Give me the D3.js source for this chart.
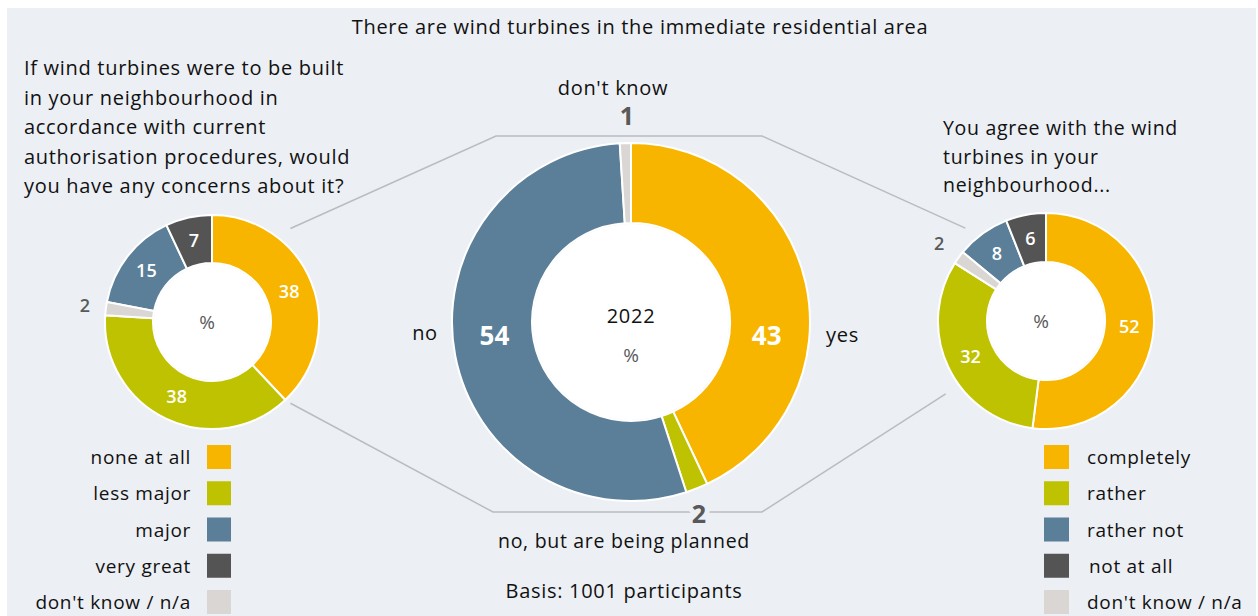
<!DOCTYPE html>
<html>
<head>
<meta charset="utf-8">
<script src="https://cdn.jsdelivr.net/npm/d3@7/dist/d3.min.js"></script>
<style>
  body { margin: 0; background: #fff; }
  svg text { font-family: "Open Sans", sans-serif; }
</style>
</head>
<body>
<div id="chart"></div>
<script>
// data
const mainCats = ["yes", "no, but are being planned", "no", "don't know"];
const mainValues = [43, 2, 54, 1];
const concernCats = ["none at all", "less major", "major", "very great", "don't know / n/a"];
const concernValues = [38, 38, 15, 7, 2];
const agreeCats = ["completely", "rather", "rather not", "not at all", "don't know / n/a"];
const agreeValues = [52, 32, 8, 6, 2];
// clockwise order of slices (index into the category lists)
const sideOrder = [0, 1, 4, 2, 3];
const mainColorIdx = [0, 1, 2, 4];

const palette = ["#F8B500", "#BFC200", "#5B7F99", "#545454", "#DAD6D3"];
const bg = "#ECEFF4";

const width = 1258, height = 616;

const svg = d3.select('#chart')
  .append('svg')
  .attr('width', width)
  .attr('height', height);

svg.append('rect')
  .attr('x', 7).attr('y', 8)
  .attr('width', 1249).attr('height', 608)
  .attr('fill', bg);

const main = { cx: 631, cy: 322, r0: 99, r1: 179 };
const left = { cx: 212, cy: 322, r0: 59, r1: 107 };
const right = { cx: 1046, cy: 321, r0: 59, r1: 108 };

function pt(c, r, deg) {
  const a = deg * Math.PI / 180;
  return [c.cx + r * Math.sin(a), c.cy - r * Math.cos(a)];
}

// connector lines
const lineColor = "#B9BCC0";
const lineGen = d3.line();
const topY = main.cy - 186, botY = main.cy + 190;
const tl = [main.cx - 135, topY], tr = [main.cx + 131, topY];
const bl = [main.cx - 138, botY], br = [main.cx + 131, botY];
[
  [pt(left, 122, 40), tl, tr, pt(right, 123, 319)],
  [pt(left, 113, 136), bl, br, pt(right, 124, 234)]
].forEach(p => {
  svg.append('path')
    .attr('d', lineGen(p))
    .attr('fill', 'none')
    .attr('stroke', lineColor)
    .attr('stroke-width', 1.5);
});

const textStyle = (t, size) => t
  .attr('font-size', size)
  .attr('letter-spacing', 0.7)
  .attr('fill', '#111');

// title
textStyle(svg.append('text').attr('x', 640).attr('y', 34).attr('text-anchor', 'middle'), 20)
  .text('There are wind turbines in the immediate residential area');

function donut(c, values, colorIdx, order) {
  const data = values.map((v, i) => ({ i, v }));
  const pieData = d3.pie()
    .sort((a, b) => order.indexOf(a.i) - order.indexOf(b.i))
    .value(d => d.v)(data);
  const arcGen = d3.arc().innerRadius(c.r0).outerRadius(c.r1);
  const g = svg.append('g').attr('transform', `translate(${c.cx},${c.cy})`);
  g.selectAll('path')
    .data(pieData)
    .enter()
    .append('path')
    .attr('d', arcGen)
    .attr('fill', d => palette[colorIdx[d.data.i]])
    .attr('stroke', '#fff')
    .attr('stroke-width', 2);
  g.append('circle').attr('r', c.r0 - 1).attr('fill', '#fff');
  return { g, pieData, arcGen };
}

// side donuts
function sideDonut(c, values, outR) {
  const d = donut(c, values, [0, 1, 2, 3, 4], sideOrder);
  const outArc = d3.arc().innerRadius(outR).outerRadius(outR);
  d.g.selectAll('text.val')
    .data(d.pieData)
    .enter()
    .append('text')
    .attr('class', 'val')
    .attr('transform', p => `translate(${(p.data.v < 3 ? outArc : d.arcGen).centroid(p)})`)
    .attr('text-anchor', 'middle')
    .attr('dy', '0.35em')
    .attr('font-size', 18)
    .attr('font-weight', 600)
    .attr('fill', p => p.data.v < 3 ? '#595959' : '#fff')
    .text(p => p.data.v);
  d.g.append('text')
    .attr('x', -5).attr('dy', '0.35em')
    .attr('text-anchor', 'middle')
    .attr('font-size', 19)
    .attr('fill', '#595959')
    .text('%');
}
sideDonut(left, concernValues, 128);
sideDonut(right, agreeValues, 132);

// main donut
const m = donut(main, mainValues, mainColorIdx, [0, 1, 2, 3]);
m.g.selectAll('text.val')
  .data(m.pieData.filter(p => p.data.v > 5))
  .enter()
  .append('text')
  .attr('class', 'val')
  .attr('x', p => m.arcGen.centroid(p)[0])
  .attr('y', 14)
  .attr('text-anchor', 'middle')
  .attr('dy', '0.35em')
  .attr('font-size', 26)
  .attr('font-weight', 700)
  .attr('fill', '#fff')
  .text(p => p.data.v);

textStyle(m.g.append('text').attr('y', 1).attr('text-anchor', 'middle'), 20)
  .text('2022');
m.g.append('text')
  .attr('y', 40).attr('text-anchor', 'middle')
  .attr('font-size', 19).attr('fill', '#595959')
  .text('%');

// main outside labels
textStyle(svg.append('text').attr('x', 425).attr('y', 340).attr('text-anchor', 'middle'), 20)
  .text(mainCats[2]);
textStyle(svg.append('text').attr('x', 826).attr('y', 342), 20)
  .text(mainCats[0]);
textStyle(svg.append('text').attr('x', 613).attr('y', 95).attr('text-anchor', 'middle'), 20)
  .text(mainCats[3]);
textStyle(svg.append('text').attr('x', 624).attr('y', 548).attr('text-anchor', 'middle'), 19.5)
  .text(mainCats[1]);
textStyle(svg.append('text').attr('x', 624).attr('y', 598).attr('text-anchor', 'middle'), 20)
  .text('Basis: 1001 participants');

[[627, 125, mainValues[3]], [699, 523, mainValues[1]]].forEach(([x, y, v]) => {
  svg.append('text')
    .attr('x', x).attr('y', y)
    .attr('text-anchor', 'middle')
    .attr('font-size', 25)
    .attr('font-weight', 700)
    .attr('fill', '#595959')
    .attr('stroke', bg)
    .attr('stroke-width', 10)
    .attr('paint-order', 'stroke')
    .text(v);
});

// questions
const leftQ = ["If wind turbines were to be built", "in your neighbourhood in",
  "accordance with current", "authorisation procedures, would",
  "you have any concerns about it?"];
const rightQ = ["You agree with the wind", "turbines in your", "neighbourhood..."];
leftQ.forEach((s, i) => {
  textStyle(svg.append('text').attr('x', 24).attr('y', 75 + i * 29.5), 20).text(s);
});
rightQ.forEach((s, i) => {
  textStyle(svg.append('text').attr('x', 943).attr('y', 135 + i * 28.5), 19.5).text(s);
});

// legends
const legY = d3.scalePoint().domain(d3.range(5)).range([457, 602]);
concernCats.forEach((s, i) => {
  svg.append('rect')
    .attr('x', 207).attr('y', legY(i) - 12)
    .attr('width', 24).attr('height', 24)
    .attr('fill', palette[i]);
  textStyle(svg.append('text').attr('x', 191).attr('y', legY(i) + 7).attr('text-anchor', 'end'), 19)
    .text(s);
});
agreeCats.forEach((s, i) => {
  svg.append('rect')
    .attr('x', 1044).attr('y', legY(i) - 12)
    .attr('width', 25).attr('height', 24)
    .attr('fill', palette[i]);
  textStyle(svg.append('text').attr('x', i === 3 ? 1089 : 1087).attr('y', legY(i) + 7), 19)
    .text(s);
});
</script>
</body>
</html>
